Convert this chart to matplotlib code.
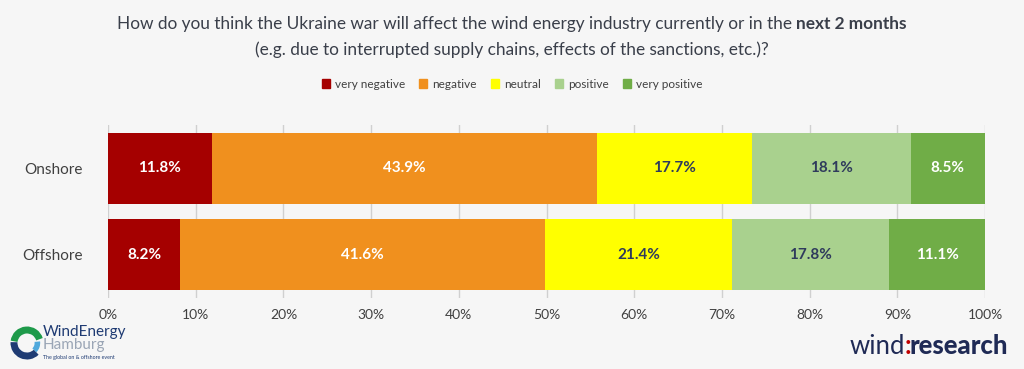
import numpy as np
import matplotlib
matplotlib.use("Agg")
import matplotlib.pyplot as plt
from matplotlib.patches import Rectangle, Arc

plt.rcParams['font.family'] = ['Lato', 'DejaVu Sans']

groups = ["Onshore", "Offshore"]
categories = ["very negative", "negative", "neutral", "positive", "very positive"]
values = {
    "very negative": [11.8, 8.2],
    "negative":      [43.9, 41.6],
    "neutral":       [17.7, 21.4],
    "positive":      [18.1, 17.8],
    "very positive": [8.5, 11.1],
}
colors = ["#A50000", "#F0901E", "#FFFF00", "#A9D18E", "#70AD47"]
label_colors = ["white", "white", "#2F3B5C", "#2F3B5C", "white"]
ticks = np.arange(0, 101, 10)

bg = "#F6F6F6"
fig = plt.figure(figsize=(10.24, 3.69), dpi=100, facecolor=bg)
ax = fig.add_axes([0.1055, 0.1924, 0.8565, 0.4688], facecolor=bg)

ypos = np.arange(len(groups))
left = np.zeros(len(groups))
for cat, col, lc in zip(categories, colors, label_colors):
    v = np.array(values[cat])
    ax.barh(ypos, v, left=left, height=0.826, color=col, zorder=3)
    for y, l, w in zip(ypos, left, v):
        ax.text(l + w / 2, y, f"{w:.1f}%", ha="center", va="center",
                color=lc, fontsize=11, fontweight="bold", zorder=4)
    left += v

ax.set_xlim(0, 100)
ax.set_ylim(1.505, -0.505)
ax.set_xticks(ticks)
ax.set_xticklabels([f"{t}%" for t in ticks], fontsize=10, color="#404040")
ax.set_yticks(ypos)
ax.set_yticklabels(groups, fontsize=11, color="#404040")
ax.tick_params(length=0, pad=8)
ax.tick_params(axis="y", pad=18)
ax.grid(axis="x", color="#D0D0D0", lw=1, zorder=0)
for s in ax.spines.values():
    s.set_visible(False)

# Titre sur deux lignes, "next 2 months" en gras
tc = "#3A3F4A"
t1 = fig.text(0.5, 1 - 24 / 369, "How do you think the Ukraine war will affect the wind energy industry currently or in the ",
              ha="left", va="center", fontsize=12.4, color=tc)
t2 = fig.text(0.5, 1 - 24 / 369, "next 2 months", ha="left", va="center",
              fontsize=12.4, color=tc, fontweight="bold")
fig.canvas.draw()
r = fig.canvas.get_renderer()
w1 = t1.get_window_extent(r).width / fig.bbox.width
w2 = t2.get_window_extent(r).width / fig.bbox.width
x0 = 0.5 - (w1 + w2) / 2
t1.set_x(x0)
t2.set_x(x0 + w1)
fig.text(0.5, 1 - 50 / 369, "(e.g. due to interrupted supply chains, effects of the sanctions, etc.)?",
         ha="center", va="center", fontsize=12.4, color=tc)

# Légende
handles = [Rectangle((0, 0), 1, 1, color=c) for c in colors]
fig.legend(handles, categories, loc="center", bbox_to_anchor=(0.5, 1 - 84 / 369),
           ncol=5, frameon=False, fontsize=8.5, handlelength=0.7, handleheight=0.7,
           handletextpad=0.4, columnspacing=1.2, labelcolor="#404040")

# Logo WindEnergy Hamburg : tourbillon approximé par des arcs
lx, ly = 27 / 1024, 1 - 343 / 369
sx, sy = 26 / 1024, 26 / 369
fig.add_artist(Arc((lx, ly), sx, sy, theta1=40, theta2=160, lw=5, color="#1E9A4A",
                   transform=fig.transFigure))
fig.add_artist(Arc((lx, ly), sx, sy, theta1=170, theta2=290, lw=5, color="#1F3B73",
                   transform=fig.transFigure))
fig.add_artist(Arc((lx, ly), sx * 0.8, sy * 0.8, theta1=290, theta2=20, lw=4, color="#4FA9DC",
                   transform=fig.transFigure))
fig.text(43 / 1024, 1 - 332 / 369, "WindEnergy", fontsize=11, color="#1F3B73", ha="left", va="center")
fig.text(43 / 1024, 1 - 345 / 369, "Hamburg", fontsize=11, color="#9AA5B5", ha="left", va="center")
fig.text(43 / 1024, 1 - 358 / 369, "The global on & offshore event", fontsize=3.8, color="#1F3B73",
         ha="left", va="center")

# Logo wind:research (pièces collées l'une à l'autre)
wx, wy = 850 / 1024, 1 - 346 / 369
w_a = fig.text(wx, wy, "wind", fontsize=18.5, color="#1F2A55", ha="left", va="center")
fig.canvas.draw()
wa = w_a.get_window_extent(r).width / fig.bbox.width
w_b = fig.text(wx + wa - 1 / 1024, wy, ":", fontsize=18.5, color="#C00000",
               fontweight="bold", ha="left", va="center")
fig.canvas.draw()
wb = w_b.get_window_extent(r).width / fig.bbox.width
fig.text(wx + wa + wb - 3 / 1024, wy, "research", fontsize=18.5, color="#1F2A55",
         fontweight="black", ha="left", va="center")

fig.savefig("out.png", dpi=100, facecolor=bg)
